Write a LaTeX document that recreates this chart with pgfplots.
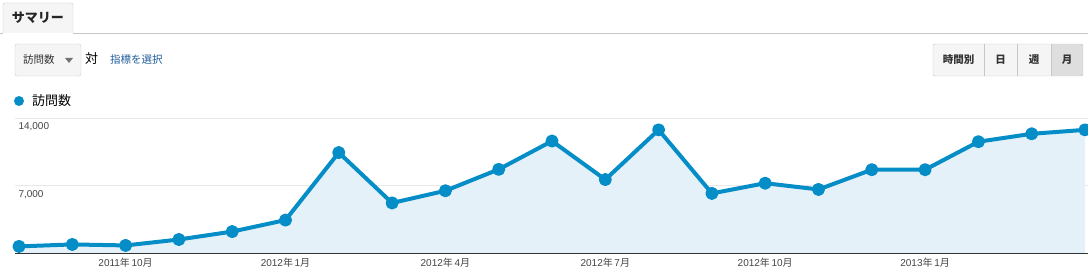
\documentclass[border=0pt]{standalone}
\usepackage{fontspec}
\setmainfont{Liberation Sans}
\newfontfamily\cjk{Noto Sans CJK JP}
\usepackage{pgfplots}
\pgfplotsset{compat=1.18}
\definecolor{gablue}{HTML}{058DC7}
\definecolor{gafill}{HTML}{E5F1F8}
\definecolor{gagrid}{HTML}{E8E8E8}
\definecolor{galink}{HTML}{1F5C99}
\definecolor{gatext}{HTML}{444444}
\newcommand{\ym}[2]{#1{\cjk 年}\,#2{\cjk 月}}
\begin{document}
\begin{tikzpicture}[x=1pt,y=1pt]
\path[use as bounding box] (0,0) rectangle (1088,273);
% tab bar
\draw[black!22] (0,240) -- (3,240);
\draw[black!22] (73,240) -- (1088,240);
\draw[black!22,fill=black!4,rounded corners=2pt] (3,240) -- (3,270) -- (73,270) -- (73,240);
\node[font=\fontsize{13}{15}\selectfont\cjk\bfseries,text=black!85] at (38,255) {サマリー};
% dropdown
\draw[black!22,fill=black!4,rounded corners=2pt] (15,197) rectangle (81,229);
\node[font=\fontsize{10.5}{12}\selectfont\cjk,text=black!80,anchor=west,inner sep=0] at (23,213) {訪問数};
\fill[black!55] (65,215) -- (73,215) -- (69,210) -- cycle;
\node[font=\fontsize{13}{15}\selectfont\cjk,anchor=west,inner sep=0] at (85,214) {対};
\node[font=\fontsize{10.5}{12}\selectfont\cjk,text=galink,anchor=west,inner sep=0] at (110,213) {指標を選択};
% buttons
\fill[black!4] (933,197) rectangle (1051,229);
\fill[black!13] (1051,197) rectangle (1083,229);
\draw[black!22,rounded corners=2pt] (933,197) rectangle (1083,229);
\draw[black!22] (984,197) -- (984,229) (1017,197) -- (1017,229) (1051,197) -- (1051,229);
\node[font=\fontsize{10.5}{12}\selectfont\cjk\bfseries,text=black!80] at (958.5,213) {時間別};
\node[font=\fontsize{10.5}{12}\selectfont\cjk\bfseries,text=black!80] at (1000.5,213) {日};
\node[font=\fontsize{10.5}{12}\selectfont\cjk\bfseries,text=black!80] at (1034,213) {週};
\node[font=\fontsize{10.5}{12}\selectfont\cjk\bfseries,text=black!80] at (1067,213) {月};
% legend
\fill[gablue] (19,172) circle (5);
\node[font=\fontsize{13}{15}\selectfont\cjk,anchor=west,inner sep=0] at (32,172) {訪問数};
\begin{axis}[
  at={(15pt,20pt)}, anchor=south west,
  scale only axis, width=1073pt, height=135pt,
  xmin=-0.075, xmax=20.056, ymin=0, ymax=14000,
  clip=false,
  scaled y ticks=false,
  axis x line*=bottom, axis y line*=left,
  x axis line style={draw=black!80, line width=0.8pt, -},
  y axis line style={draw=none},
  xtick={2,5,8,11,14,17},
  xticklabels={\ym{2011}{10},\ym{2012}{1},\ym{2012}{4},\ym{2012}{7},\ym{2012}{10},\ym{2013}{1}},
  ytick={7000,14000},
  yticklabels={7{,}000,14{,}000},
  major tick length=0pt,
  ymajorgrids, grid style={gagrid, line width=0.8pt},
  tick label style={font=\fontsize{10}{12}\selectfont, text=gatext},
  xticklabel style={yshift=-1.5pt},
  yticklabel style={anchor=north west, xshift=0pt, yshift=-1pt},
  /pgf/number format/assume math mode=true,
]
\addplot[fill=gafill, draw=none] coordinates {
(0,683) (1,888) (2,785) (3,1400) (4,2220) (5,3415) (6,10415) (7,5190)
(8,6454) (9,8673) (10,11610) (11,7615) (12,12771) (13,6180) (14,7239)
(15,6590) (16,8639) (17,8639) (18,11541) (19,12361) (20,12771)
} \closedcycle;
\addplot[gablue, line width=4pt, line join=round, mark=*, mark size=4.5pt, mark options={fill=gablue, draw=none}] coordinates {
(0,683) (1,888) (2,785) (3,1400) (4,2220) (5,3415) (6,10415) (7,5190)
(8,6454) (9,8673) (10,11610) (11,7615) (12,12771) (13,6180) (14,7239)
(15,6590) (16,8639) (17,8639) (18,11541) (19,12361) (20,12771)
};
\end{axis}
\end{tikzpicture}
\end{document}
